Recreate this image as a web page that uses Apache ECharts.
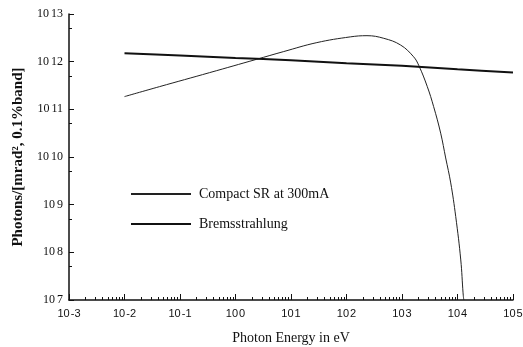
<!DOCTYPE html>
<html>
<head>
<meta charset="utf-8">
<script src="https://cdn.jsdelivr.net/npm/echarts@6/dist/echarts.min.js"></script>
<style>html,body{margin:0;padding:0;background:#fff}#c{width:523px;height:347px}</style>
</head>
<body>
<div id="c"></div>
<script>
// Compact SR at 300 mA: [photon energy (eV), photons]
const compactSR = [
  [0.01, 1.85e11], [0.0426, 2.99e11], [0.342, 5.89e11], [2.39, 1.12e12],
  [7.26, 1.62e12], [29.2, 2.51e12], [117, 3.31e12], [234, 3.51e12],
  [469, 3.09e12], [940, 2.24e12], [1614, 1.27e12], [2014, 8.24e11],
  [2858, 2.99e11], [3715, 1.14e11], [4977, 3.16e10], [6124, 9.55e9],
  [7551, 2.86e9], [9290, 5.62e8], [11455, 6.92e7], [12589, 1.41e7], [12970, 1.0e7]
];
// Bremsstrahlung
const bremsstrahlung = [
  [0.01, 1.5e12], [0.1, 1.35e12], [1, 1.2e12], [10, 1.07e12],
  [100, 9.3e11], [1000, 8.2e11], [10000, 6.9e11], [100000, 5.9e11]
];
const seriesNames = ['Compact SR at 300mA', 'Bremsstrahlung'];
const xMajorTicks = [1e-3, 1e-2, 1e-1, 1, 1e1, 1e2, 1e3, 1e4, 1e5];
const yMajorTicks = [1e7, 1e8, 1e9, 1e10, 1e11, 1e12, 1e13];
const yMinorTicks = [5e7, 5e8, 5e9, 5e10, 5e11, 5e12];
const xMinorTicks = [];
for (let n = -3; n < 5; n++) for (let k = 2; k <= 9; k++) xMinorTicks.push(k * Math.pow(10, n));

const expOf = v => Math.round(Math.log10(v));
const fmt = v => '{b|10}{e|' + expOf(v) + '}';
const labelRichY = {
  b: { fontFamily: 'Liberation Serif', fontSize: 12, color: '#111' },
  e: { fontFamily: 'Liberation Serif', fontSize: 12, color: '#111', padding: [0, 0, 0, 2] }
};
const labelRichX = {
  b: { fontFamily: 'Liberation Sans', fontSize: 11, color: '#111' },
  e: { fontFamily: 'Liberation Sans', fontSize: 11, color: '#111', padding: [0, 0, 0, 1] }
};
const axisLine = { show: true, lineStyle: { color: '#111', width: 1.5 } };

const chart = echarts.init(document.getElementById('c'), null, { renderer: 'canvas' });
chart.setOption({
  backgroundColor: '#fff',
  animation: false,
  grid: { left: 69, right: 10, top: 14, bottom: 47, containLabel: false, outerBoundsMode: 'none' },
  legend: {
    orient: 'vertical', left: 125, top: 182, itemWidth: 60, itemHeight: 10, itemGap: 16,
    data: seriesNames,
    itemStyle: { opacity: 0 },
    textStyle: { fontFamily: 'Liberation Serif', fontSize: 14, color: '#111', padding: [0, 0, 0, 3] }
  },
  xAxis: [{
    type: 'log', logBase: 10, min: 1e-3, max: 1e5,
    name: 'Photon Energy in eV', nameLocation: 'middle', nameGap: 31,
    nameTextStyle: { fontFamily: 'Liberation Serif', fontSize: 14, color: '#111' },
    axisLine: axisLine,
    axisTick: { show: true, inside: true, length: 6, customValues: xMajorTicks, lineStyle: { color: '#111' } },
    axisLabel: { customValues: xMajorTicks, formatter: fmt, rich: labelRichX, margin: 8 },
    splitLine: { show: false }, minorTick: { show: false }
  }, {
    type: 'log', logBase: 10, min: 1e-3, max: 1e5, position: 'bottom', gridIndex: 0,
    axisLine: { show: false },
    axisTick: { show: true, inside: true, length: 3, customValues: xMinorTicks, lineStyle: { color: '#111' } },
    axisLabel: { show: false }, splitLine: { show: false }
  }],
  yAxis: [{
    type: 'log', logBase: 10, min: 1e7, max: 1e13,
    name: 'Photons/[mrad², 0.1%band]', nameLocation: 'middle', nameGap: 40,
    nameTextStyle: { fontFamily: 'Liberation Serif', fontSize: 15, fontWeight: 'bold', color: '#111' },
    axisLine: axisLine,
    axisTick: { show: true, inside: true, length: 5, customValues: yMajorTicks, lineStyle: { color: '#111' } },
    axisLabel: { customValues: yMajorTicks, formatter: fmt, rich: labelRichY, margin: 6 },
    splitLine: { show: false }
  }, {
    type: 'log', logBase: 10, min: 1e7, max: 1e13, position: 'left', gridIndex: 0,
    axisLine: { show: false },
    axisTick: { show: true, inside: true, length: 3, customValues: yMinorTicks, lineStyle: { color: '#111' } },
    axisLabel: { show: false }, splitLine: { show: false }
  }],
  series: [{
    name: seriesNames[0], type: 'line', data: compactSR, symbol: 'none', smooth: 0.4,
    lineStyle: { color: '#222', width: 1 }, itemStyle: { color: '#222' }
  }, {
    name: seriesNames[1], type: 'line', data: bremsstrahlung, symbol: 'none', smooth: 0.3,
    lineStyle: { color: '#111', width: 2 }, itemStyle: { color: '#111' }
  }]
});
</script>
</body>
</html>
